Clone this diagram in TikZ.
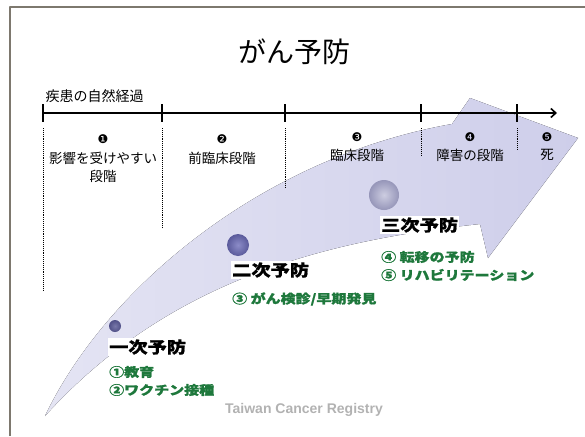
\documentclass[tikz,border=0pt]{standalone}
\usepackage{fontspec}
\setmainfont{Noto Sans CJK JP}
\newfontfamily\widejp[FakeStretch=1.2, BoldFeatures={FakeBold=1.2}]{Noto Sans CJK JP}
\newfontfamily\dingfont{DejaVu Sans}
\newfontfamily\logofont{Liberation Sans}
\usetikzlibrary{arrows.meta}
\definecolor{swoosh}{RGB}{206,206,234}
\definecolor{framegray}{RGB}{125,120,110}
\definecolor{prevgreen}{RGB}{30,120,60}
\tikzset{
	stage/.style={font=\fontsize{13.5}{18}\selectfont, align=center, inner sep=0pt},
	num/.style={font=\dingfont\fontsize{12}{12}\selectfont, inner sep=0pt},
	level/.style={fill=white, inner sep=1pt, anchor=west, font=\widejp\bfseries\fontsize{16}{16}\selectfont},
	measure/.style={fill=white, inner sep=1pt, anchor=west, text=prevgreen, font=\widejp\bfseries\fontsize{12.5}{12.5}\selectfont},
	logotext/.style={font=\logofont\bfseries\fontsize{14}{14}\selectfont},
}
\begin{document}
\begin{tikzpicture}[x=1pt, y=-1pt, line join=round]
	\useasboundingbox (0,0) rectangle (585,436);
	% slide frame
	\draw[framegray, line width=2pt] (10,436) -- (10,7) -- (585,7);
	\node (title) at (294,52) {\fontsize{28}{28}\selectfont がん予防};
	% the big swoosh arrow
	\fill[left color=swoosh!55, right color=swoosh] (45,416) .. controls (105,290) and (260,158) .. (452,124)
		-- (470,98) -- (578,138) -- (488,258) -- (480,224)
		.. controls (330,240) and (170,278) .. (45,416) -- cycle;
	% time line with stage borders
	\foreach \x/\d [count=\i] in {43/290,162/228,285/187,421/155,517/150} {
		\coordinate (t\i) at (\x,113);
		\draw[line width=1.6pt] (\x,104) -- (\x,122);
		\draw[densely dotted, line width=0.9pt] (\x,128) -- (\x,\d);
	}
	\coordinate (tend) at (557,113);
	\draw[line width=1.6pt, -{Straight Barb[length=5pt,width=9pt]}] (t1) -- (tend);
	\node[anchor=west, font=\fontsize{14}{14}\selectfont] (course) at (42,96) {疾患の自然経過};
	% stages
	\node[num] (n1) at (103,139) {❶};
	\node[stage] (s1) at (103,167) {影響を受けやすい\\段階};
	\node[num] (n2) at (222,139) {❷};
	\node[stage] (s2) at (222,158) {前臨床段階};
	\node[num] (n3) at (357,137) {❸};
	\node[stage] (s3) at (357,155) {臨床段階};
	\node[num] (n4) at (470,137) {❹};
	\node[stage] (s4) at (470,155) {障害の段階};
	\node[num] (n5) at (547,137) {❺};
	\node[stage] (s5) at (547,155) {死};
	% prevention levels
	\shade[inner color={rgb,255:red,120;green,120;blue,170}, outer color={rgb,255:red,80;green,80;blue,135}] (115,326) circle (6);
	\shade[inner color={rgb,255:red,140;green,140;blue,200}, outer color={rgb,255:red,90;green,90;blue,155}] (238,245) circle (11);
	\shade[inner color={rgb,255:red,205;green,205;blue,225}, outer color={rgb,255:red,150;green,150;blue,185}] (384,195) circle (15);
	\node[level] (p1) at (108,347) {一次予防};
	\node[measure] (m1) at (108,372) {①教育};
	\node[measure] (m2) at (108,390) {②ワクチン接種};
	\node[level] (p2) at (231,270) {二次予防};
	\node[measure] (m3) at (231,299) {③ がん検診/早期発見};
	\node[level] (p3) at (380,225) {三次予防};
	\node[measure] (m4) at (380,257) {④ 転移の予防};
	\node[measure] (m5) at (380,275) {⑤ リハビリテーション};
	% registry mark
	\node[logotext, text=black!30] (logo) at (304,410) {Taiwan Cancer Registry};
\end{tikzpicture}
\end{document}
